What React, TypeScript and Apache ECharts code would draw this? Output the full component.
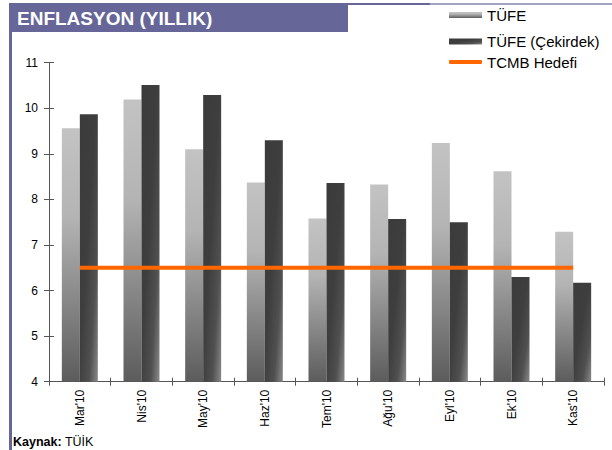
import React, { useEffect, useRef } from 'react';
import * as echarts from 'echarts';

const categories = ["Mar'10", "Nis'10", "May'10", "Haz'10", "Tem'10", "Ağu'10", "Eyl'10", "Ek'10", "Kas'10"];
const tufe = [9.56, 10.19, 9.10, 8.37, 7.58, 8.33, 9.24, 8.62, 7.29];
const tufeCekirdek = [9.87, 10.51, 10.29, 9.30, 8.36, 7.57, 7.50, 6.30, 6.17];
const tcmbHedefi = [6.5, 6.5, 6.5, 6.5, 6.5, 6.5, 6.5, 6.5, 6.5];
const yTicks = { min: 4, max: 11, interval: 1 };

const FONT = '"Liberation Sans", Arial, sans-serif';
const PURPLE = '#666699';

export default function App() {
  const ref = useRef<HTMLDivElement>(null);
  useEffect(() => {
    document.body.style.margin = '0';
    const chart = echarts.init(ref.current!, undefined, { renderer: 'svg' });
    const lightGrad = new echarts.graphic.LinearGradient(0, 0, 0, 1, [
      { offset: 0, color: '#c3c3c3' },
      { offset: 0.35, color: '#b4b4b4' },
      { offset: 1, color: '#5c5c5c' },
    ]);
    const darkGrad = new echarts.graphic.LinearGradient(0, 0, 1, 1, [
      { offset: 0, color: '#3b3b3b' },
      { offset: 0.45, color: '#3e3e3e' },
      { offset: 0.75, color: '#505050' },
      { offset: 1, color: '#8a8a8a' },
    ]);
    const axisCommon = { color: '#555', width: 1 };
    const legendText = { fontSize: 15, color: '#000', fontFamily: FONT, lineHeight: 17 };
    chart.setOption({
      animation: false,
      backgroundColor: '#ffffff',
      textStyle: { fontFamily: FONT },
      grid: { left: 49, right: 8, top: 62.7, bottom: 68.3, containLabel: false },
      legend: [
        {
          data: [{ name: 'TÜFE', icon: 'rect' }],
          left: 449, top: 6.5, padding: 0, itemWidth: 33, itemHeight: 6,
          textStyle: legendText, selectedMode: false,
        },
        {
          data: [{ name: 'TÜFE (Çekirdek)', icon: 'rect' }],
          left: 449, top: 33, padding: 0, itemWidth: 33, itemHeight: 6,
          textStyle: legendText, selectedMode: false,
        },
        {
          data: [{ name: 'TCMB Hedefi', icon: 'roundRect', itemStyle: { color: '#ff6600' } }],
          left: 449, top: 53.5, padding: 0, itemWidth: 33, itemHeight: 4,
          textStyle: legendText, selectedMode: false,
        },
      ],
      xAxis: [
        {
          type: 'category',
          data: categories,
          boundaryGap: true,
          axisLine: { lineStyle: axisCommon },
          axisTick: { show: true, length: 4, lineStyle: axisCommon, alignWithLabel: false },
          axisLabel: { rotate: 90, fontSize: 12, color: '#000', margin: 8, fontFamily: FONT, interval: 0 },
          splitLine: { show: false },
        },
        {
          type: 'category',
          data: categories,
          position: 'bottom',
          boundaryGap: true,
          axisLine: { show: false },
          axisTick: { show: true, inside: true, length: 4, lineStyle: axisCommon },
          axisLabel: { show: false },
          splitLine: { show: false },
        },
      ],
      yAxis: [
        {
          type: 'value',
          min: yTicks.min, max: yTicks.max, interval: yTicks.interval,
          axisLine: { show: true, lineStyle: axisCommon },
          axisTick: { show: true, length: 5, lineStyle: axisCommon },
          axisLabel: { fontSize: 12, color: '#000', margin: 11, fontFamily: FONT },
          splitLine: { show: false },
        },
        {
          type: 'value',
          position: 'left',
          min: yTicks.min, max: yTicks.max, interval: yTicks.interval,
          axisLine: { show: false },
          axisTick: { show: true, inside: true, length: 5, lineStyle: axisCommon },
          axisLabel: { show: false },
          splitLine: { show: false },
        },
      ],
      series: [
        {
          name: 'TÜFE', type: 'bar', data: tufe, barWidth: 18, barGap: '0%',
          itemStyle: { color: lightGrad },
        },
        {
          name: 'TÜFE (Çekirdek)', type: 'bar', data: tufeCekirdek, barWidth: 18, barGap: '0%',
          itemStyle: { color: darkGrad },
        },
        {
          name: 'TCMB Hedefi', type: 'line', data: tcmbHedefi, symbol: 'none', showSymbol: false,
          lineStyle: { color: '#ff6600', width: 4 }, itemStyle: { color: '#ff6600' }, z: 5,
        },
      ],
      graphic: [
        { type: 'rect', shape: { x: 9, y: 3, width: 339, height: 29 }, style: { fill: PURPLE }, silent: true },
        { type: 'rect', shape: { x: 9, y: 32, width: 3, height: 418 }, style: { fill: PURPLE }, silent: true },
        { type: 'rect', shape: { x: 348, y: 3, width: 82, height: 2 }, style: { fill: PURPLE }, silent: true },
        { type: 'rect', shape: { x: 430, y: 3, width: 182, height: 2 }, style: { fill: '#a3a3c2' }, silent: true },
        {
          type: 'text', x: 17, y: 18.5,
          style: { text: 'ENFLASYON (YILLIK)', fill: '#ffffff', font: `bold 19px ${FONT}`, verticalAlign: 'middle', align: 'left' },
        },
        {
          type: 'text', x: 13, y: 441.5,
          style: {
            text: '{b|Kaynak:} {n|TÜİK}',
            verticalAlign: 'middle', align: 'left',
            rich: {
              b: { fontWeight: 'bold', fontSize: 12.5, fontFamily: FONT, fill: '#000' },
              n: { fontSize: 12.5, fontFamily: FONT, fill: '#000' },
            },
          },
        },
      ],
    });
    return () => chart.dispose();
  }, []);
  return <div ref={ref} style={{ width: 612, height: 450 }} />;
}
